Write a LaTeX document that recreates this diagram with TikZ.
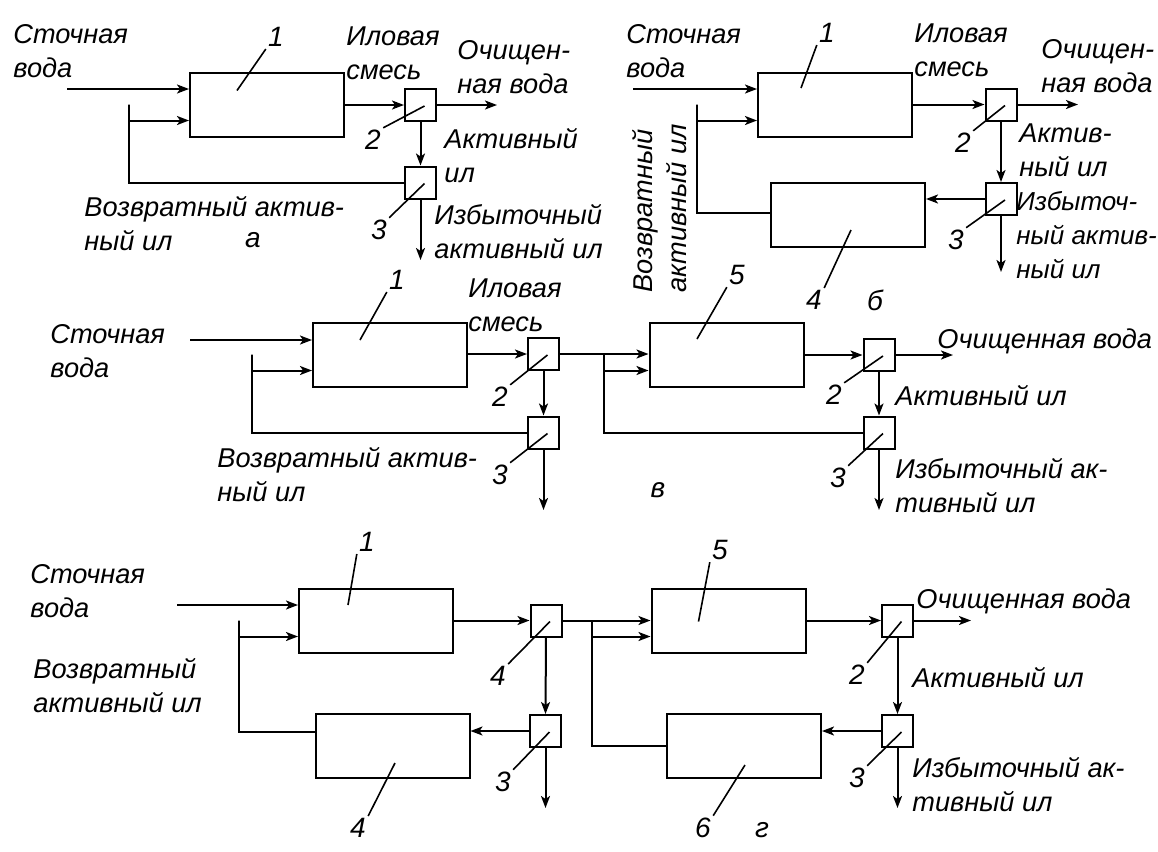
\documentclass[tikz,border=0pt]{standalone}
\usepackage{fontspec}
\setmainfont{Liberation Sans}
\usetikzlibrary{arrows.meta,calc}

\tikzset{
  tank/.style={draw,line width=1pt,minimum width=77pt,minimum height=32pt,inner sep=0pt},
  split/.style={draw,line width=1pt,minimum width=15.5pt,minimum height=16pt,inner sep=0pt},
  flow/.style={line width=1pt,-{Stealth[length=6pt,width=4.5pt,inset=1.5pt]}},
  lead/.style={line width=0.8pt},
  % anchored at the baseline of the last line
  txt/.style={inner sep=0pt,align=left,anchor=base west},
  num/.style={inner sep=1pt,font=\fontsize{14}{16}\selectfont\itshape},
}

\begin{document}
\begin{tikzpicture}[x=0.5pt,y=-0.5pt,font=\fontsize{13.6}{17}\selectfont\itshape]
\useasboundingbox (0,0) rectangle (1158,852);

% --- scheme a ---
\node[tank]  (a1) at (267,104.5) {};
\node[split] (a2) at (420.5,105) {};
\node[split] (a3) at (420.5,182.5) {};
\coordinate (ain)  at (67,89);
\coordinate (aout) at (497,105);
\coordinate (aexc) at (420.5,260);
\draw[flow] (ain) -- (ain -| a1.west);
\draw[flow] (a1.east |- a2) -- (a2.west);
\draw[flow] (a2.east) -- (aout);
\draw[flow] (a2.south) -- (a3.north);
\draw[flow] (a3.south) -- (aexc);
\draw[flow] (a3.west) -| ([xshift=-30pt]a1.west) |- ([yshift=-8pt]a1.west);
\node[num] (la1) at (276,37) {1};
\node[num] (la2) at (373,140) {2};
\node[num] (la3) at (379,230) {3};
\draw[lead] (la1.south west) -- ([shift={(-30,-14)}]a1.center);
\draw[lead] (la2.north east) -- ([shift={(4,1)}]a2.center);
\draw[lead] (la3.north east) -- ([shift={(4,1)}]a3.center);
\node[txt] (ta1) at (13,77) {Сточная\\вода};
\node[txt] (ta2) at (346,79) {Иловая\\смесь};
\node[txt] (ta3) at (457,93) {Очищен-\\ная вода};
\node[txt] (ta4) at (444,182) {Активный\\ил};
\node[txt] (ta5) at (84,250) {Возвратный актив-\\ный ил};
\node[txt] (ta6) at (434,258) {Избыточный\\активный ил};
\node[num] (ca) at (253,240) {а};

% --- scheme b ---
\node[tank]  (b1) at (835,104.5) {};
\node[split] (b2) at (1001,104.5) {};
\node[split] (b3) at (1001,199) {};
\node[tank]  (b4) at (848,215) {};
\coordinate (bin)  at (633,89);
\coordinate (bout) at (1078,104.5);
\coordinate (bexc) at (1001,272);
\draw[flow] (bin) -- (bin -| b1.west);
\draw[flow] (b1.east) -- (b2.west);
\draw[flow] (b2.east) -- (bout);
\draw[flow] (b2.south) -- (b3.north);
\draw[flow] (b3.south) -- (bexc);
\draw[flow] (b3.west) -- (b3.west -| b4.east);
\draw[flow] ([yshift=1pt]b4.west) -| ([xshift=-30pt]b1.west) |- ([yshift=-8pt]b1.west);
\node[num] (lb1) at (827,33) {1};
\node[num] (lb2) at (963,143) {2};
\node[num] (lb3) at (956,240) {3};
\node[num] (lb4) at (814,300) {4};
\draw[lead] (lb1.south west) -- ([shift={(-34,-16.5)}]b1.center);
\draw[lead] (lb2.north east) -- ([shift={(4,1)}]b2.center);
\draw[lead] (lb3.north east) -- ([shift={(4,1)}]b3.center);
\draw[lead] (lb4.north east) -- ([shift={(3,15)}]b4.center);
\node[txt] (tb1) at (626,77) {Сточная\\вода};
\node[txt] (tb2) at (914,76) {Иловая\\смесь};
\node[txt] (tb3) at (1041,92) {Очищен-\\ная вода};
\node[txt] (tb4) at (1019,176) {Актив-\\ный ил};
\node[txt,font=\fontsize{13}{17}\selectfont\itshape] (tb5) at (1016,278) {Избыточ-\\ный актив-\\ный ил};
\node[inner sep=0pt,align=left,rotate=90,anchor=north west] (tb6) at (632,293) {Возвратный\\активный ил};
\node[num] (cb) at (875,300) {б};

% --- scheme v ---
\node[tank]  (c1) at (390,354.5) {};
\node[split] (c2) at (543.5,354) {};
\node[split] (c3) at (543.5,432.5) {};
\node[tank]  (c5) at (726.5,354.5) {};
\node[split] (c6) at (879,355) {};
\node[split] (c7) at (879,432.5) {};
\coordinate (cin)  at (190,340);
\coordinate (cout) at (953,355);
\coordinate (cex1) at (543.5,510);
\coordinate (cex2) at (879,510);
\draw[flow] (cin) -- (cin -| c1.west);
\draw[flow] (c1.east |- c2) -- (c2.west);
\draw[flow] (c2.east) -- (c2.east -| c5.west);
\draw[flow] (c5.east |- c6) -- (c6.west);
\draw[flow] (c6.east) -- (cout);
\draw[flow] (c2.south) -- (c3.north);
\draw[flow] (c3.south) -- (cex1);
\draw[flow] (c6.south) -- (c7.north);
\draw[flow] (c7.south) -- (cex2);
\draw[flow] (c3.west) -| ([xshift=-30pt]c1.west) |- ([yshift=-8pt]c1.west);
\draw[flow] (c7.west) -| ([xshift=-22.5pt]c5.west) |- ([yshift=-8pt]c5.west);
\node[num] (lc1) at (397,280) {1};
\node[num] (lc2) at (500,397) {2};
\node[num] (lc3) at (500,475) {3};
\node[num] (lc5) at (737,275) {5};
\node[num] (lc6) at (834,395) {2};
\node[num] (lc7) at (838,478) {3};
\draw[lead] (lc1.south west) -- ([shift={(-30,-14.5)}]c1.center);
\draw[lead] (lc2.north east) -- ([shift={(4,1)}]c2.center);
\draw[lead] (lc3.north east) -- ([shift={(4,1)}]c3.center);
\draw[lead] (lc5.south west) -- ([shift={(-29.5,-15.5)}]c5.center);
\draw[lead] (lc6.north east) -- ([shift={(4,1)}]c6.center);
\draw[lead] (lc7.north east) -- ([shift={(4,1)}]c7.center);
\node[txt] (tc1) at (50,377) {Сточная\\вода};
\node[txt] (tc2) at (468,331) {Иловая\\смесь};
\node[txt] (tc3) at (937,348) {Очищенная вода};
\node[txt] (tc4) at (895,405) {Активный ил};
\node[txt] (tc5) at (895,512) {Избыточный ак-\\тивный ил};
\node[txt] (tc6) at (217,501) {Возвратный актив-\\ный ил};
\node[num] (cc) at (658,490) {в};

% --- scheme g ---
\node[tank]  (d1) at (376,620.5) {};
\node[split] (d2) at (546,620.5) {};
\node[split] (d3) at (545.5,731) {};
\node[tank]  (d4) at (392.5,746) {};
\node[tank]  (d5) at (728.5,620.5) {};
\node[split] (d6) at (897.5,620.5) {};
\node[split] (d7) at (897.5,731) {};
\node[tank]  (d8) at (744,746) {};
\coordinate (din)  at (177,605);
\coordinate (dout) at (971,620.5);
\coordinate (dex1) at (545.5,808);
\coordinate (dex2) at (897.5,808);
\draw[flow] (din) -- (din -| d1.west);
\draw[flow] (d1.east) -- (d2.west);
\draw[flow] (d2.east) -- (d2.east -| d5.west);
\draw[flow] (d5.east) -- (d6.west);
\draw[flow] (d6.east) -- (dout);
\draw[flow] (d2.south) -- (d3.north);
\draw[flow] (d3.south) -- (dex1);
\draw[flow] (d6.south) -- (d7.north);
\draw[flow] (d7.south) -- (dex2);
\draw[flow] (d3.west) -- (d3.west -| d4.east);
\draw[flow] (d7.west) -- (d7.west -| d8.east);
\draw[flow] ([yshift=7pt]d4.west) -| ([xshift=-29.5pt]d1.west) |- ([yshift=-8pt]d1.west);
\draw[flow] (d8.west) -| ([xshift=-29.5pt]d5.west) |- ([yshift=-8pt]d5.west);
\node[num] (ld1) at (367,542) {1};
\node[num] (ld5) at (720,550) {5};
\node[num] (ld2) at (498,676) {4};
\node[num] (ld3) at (503,782) {3};
\node[num] (ld6) at (857,675) {2};
\node[num] (ld7) at (857,778) {3};
\node[num] (ld4) at (358,828) {4};
\node[num] (ld8) at (703,828) {6};
\draw[lead] (ld1.south west) -- ([shift={(-28,-15.5)}]d1.center);
\draw[lead] (ld5.south west) -- ([shift={(-30,1)}]d5.center);
\draw[lead] (ld2.north east) -- ([shift={(4,1)}]d2.center);
\draw[lead] (ld3.north east) -- ([shift={(4,1)}]d3.center);
\draw[lead] (ld6.north east) -- ([shift={(4,1)}]d6.center);
\draw[lead] (ld7.north east) -- ([shift={(4,1)}]d7.center);
\draw[lead] (ld4.north east) -- ([shift={(2.5,17)}]d4.center);
\draw[lead] (ld8.north east) -- ([shift={(1,19)}]d8.center);
\node[txt] (td1) at (30,617) {Сточная\\вода};
\node[txt] (td2) at (33,712) {Возвратный\\активный ил};
\node[txt] (td3) at (916,608) {Очищенная вода};
\node[txt] (td4) at (912,687) {Активный ил};
\node[txt] (td5) at (912,811) {Избыточный ак-\\тивный ил};
\node[num] (cd) at (762,830) {г};
\end{tikzpicture}
\end{document}
